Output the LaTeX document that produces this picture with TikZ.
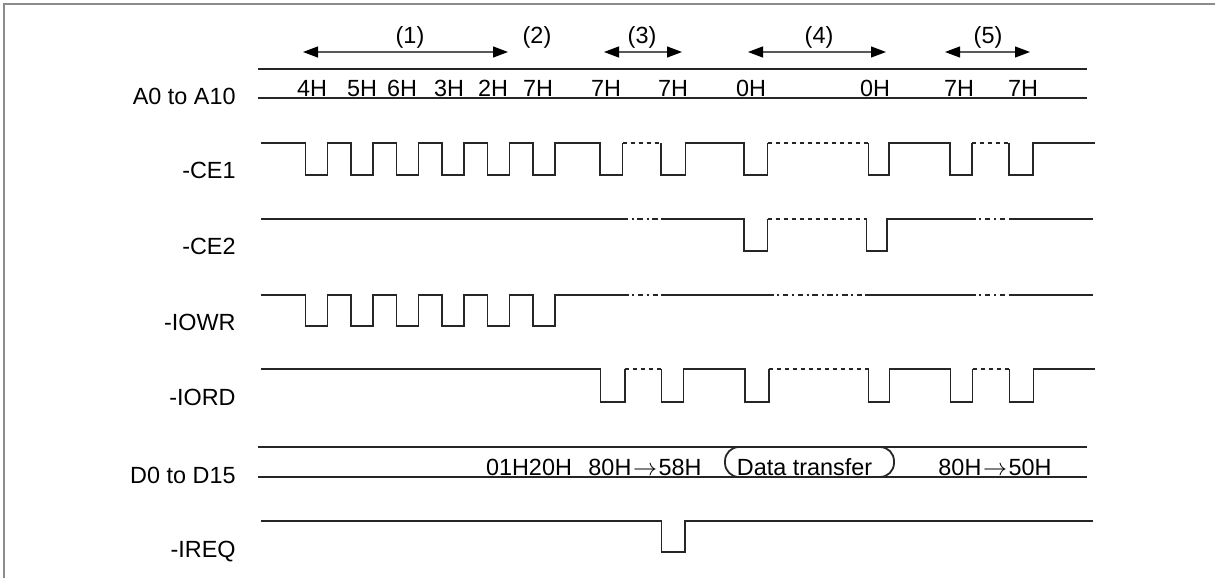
\documentclass[tikz,border=0pt]{standalone}
\usepackage{fontspec}
\setmainfont{Liberation Sans}
\usetikzlibrary{arrows.meta}

\tikzset{
  sig/.style={line width=0.9pt, draw=black!85},
  gap/.style={sig, dash pattern=on 2pt off 2pt},
  dashdot/.style={sig, dash pattern=on 2.8pt off 1.8pt on 1pt off 1.8pt},
  lbl/.style={anchor=base east, inner sep=0pt},
  val/.style={anchor=base, inner sep=0pt},
  span/.style={{Triangle[length=7.5pt,width=5.5pt,black]}-{Triangle[length=7.5pt,width=5.5pt,black]},
    line width=0.6pt, draw=black!65},
}
\newcommand\goesto{\kern0.8pt$\rightarrow$\kern0.8pt}

\begin{document}
\begin{tikzpicture}[x=0.5pt,y=-0.5pt,font=\fontsize{11.7}{14}\selectfont]
    \useasboundingbox (0,0) rectangle (1215,578);

    % Frame
    \draw[gray!90, line width=0.9pt] (4,578) -- (4,4) -- (1215,4);

    % Phase spans
    \coordinate (p1a) at (303,52); \coordinate (p1b) at (508,52);
    \coordinate (p3a) at (604,52); \coordinate (p3b) at (682,52);
    \coordinate (p4a) at (748,52); \coordinate (p4b) at (886,52);
    \coordinate (p5a) at (945,52); \coordinate (p5b) at (1030,52);
    \draw[span] (p1a) -- (p1b);
    \draw[span] (p3a) -- (p3b);
    \draw[span] (p4a) -- (p4b);
    \draw[span] (p5a) -- (p5b);
    \node (n1) at (410,37) {(1)};
    \node (n2) at (537,37) {(2)};
    \node (n3) at (642,37) {(3)};
    \node (n4) at (819,37) {(4)};
    \node (n5) at (988,37) {(5)};

    % Signal names
    \node[lbl] (la) at (236,104) {A0 to A10};
    \node[lbl] (lce1) at (236,178) {-CE1};
    \node[lbl] (lce2) at (236,254) {-CE2};
    \node[lbl] (liowr) at (236,330) {-IOWR};
    \node[lbl] (liord) at (236,405) {-IORD};
    \node[lbl] (ld) at (236,483) {D0 to D15};
    \node[lbl] (lirq) at (236,557) {-IREQ};

    % Address bus
    \draw[sig] (258,69) -- (1087,69) (258,98) -- (1087,98);
    \foreach \x/\v [count=\i] in {312/4H,362/5H,402/6H,449/3H,493/2H,538/7H,
        606/7H,673/7H,751/0H,875/0H,959/7H,1023/7H}
      \node[val] (a\i) at (\x,96) {\v};

    % -CE1
    \draw[sig] (261,143) foreach \i in {0,...,5} {
        -- ({305.5+45.5*\i},143) -- ++(0,32) -- ++(22,0) -- ++(0,-32) }
      -- (600,143) -- (600,175) -- (622.5,175) -- (622.5,143)
      (661,143) -- (661,175) -- (685.5,175) -- (685.5,143) -- (744,143)
      -- (744,175) -- (767.5,175) -- (767.5,143)
      (868.5,143) -- (868.5,175) -- (889,175) -- (889,143) -- (950,143)
      -- (950,175) -- (972,175) -- (972,143)
      (1009,143) -- (1009,175) -- (1033,175) -- (1033,143) -- (1095,143);
    \draw[gap] (622.5,143) -- (661,143) (767.5,143) -- (868.5,143)
      (972,143) -- (1009,143);

    % -CE2
    \draw[sig] (261,219) -- (622.5,219) (661,219) -- (744,219) -- (744,251)
      -- (767.5,251) -- (767.5,219)
      (866.5,219) -- (866.5,251) -- (887,251) -- (887,219) -- (970,219)
      (1010,219) -- (1093,219);
    \draw[dashdot] (622.5,219) -- (661,219) (970,219) -- (1010,219);
    \draw[gap] (767.5,219) -- (866.5,219);

    % -IOWR
    \draw[sig] (261,295) foreach \i in {0,...,5} {
        -- ({305.5+45.5*\i},295) -- ++(0,31) -- ++(22,0) -- ++(0,-31) }
      -- (623,295) (661,295) -- (768,295) (865,295) -- (970,295)
      (1010,295) -- (1093,295);
    \draw[dashdot] (623,295) -- (661,295) (768,295) -- (865,295)
      (970,295) -- (1010,295);

    % -IORD
    \draw[sig] (261,369) -- (600.5,369) -- (600.5,402) -- (625,402) -- (625,369)
      (661.5,369) -- (661.5,402) -- (683.5,402) -- (683.5,369) -- (745,369)
      -- (745,402) -- (769,402) -- (769,369)
      (868.5,369) -- (868.5,402) -- (889.5,402) -- (889.5,369) -- (950.5,369)
      -- (950.5,402) -- (972.5,402) -- (972.5,369)
      (1009.5,369) -- (1009.5,402) -- (1033.5,402) -- (1033.5,369) -- (1095,369);
    \draw[gap] (625,369) -- (661.5,369) (769,369) -- (868.5,369)
      (972.5,369) -- (1009.5,369);

    % Data bus
    \draw[sig] (258,447) -- (1087,447) (258,477) -- (1087,477);
    \draw[sig, rounded corners=7pt] (725,447) rectangle (894,477);
    \node[val] (d1) at (529,475) {01H20H};
    \node[val] (d2) at (645,475) {80H\goesto 58H};
    \node[val] (dt) at (804.5,475) {Data transfer};
    \node[val] (d3) at (995,475) {80H\goesto 50H};

    % -IREQ
    \draw[sig] (261,521) -- (661.5,521) -- (661.5,552) -- (685,552) -- (685,521)
      -- (1093,521);
  \end{tikzpicture}
\end{document}
